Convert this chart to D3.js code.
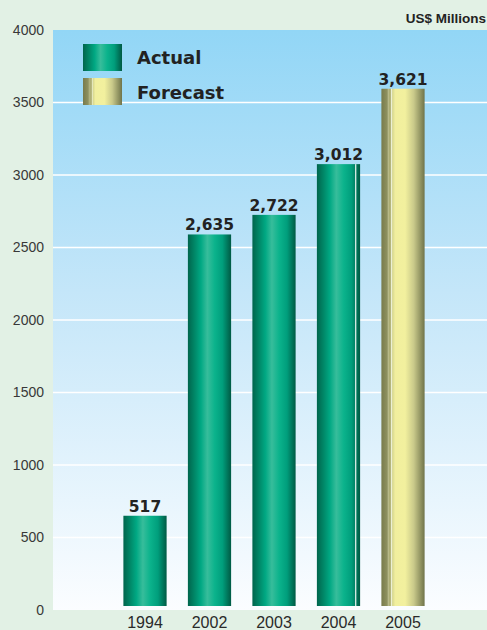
<!DOCTYPE html>
<html>
<head>
<meta charset="utf-8">
<script src="https://cdn.jsdelivr.net/npm/d3@7"></script>
<style>
  body { margin: 0; background: #e2f1e5; }
  svg { display: block; }
</style>
</head>
<body>
<div id="chart"></div>
<script>
// chart data
var years = ["1994", "2002", "2003", "2004", "2005"];
var barValues = [650, 2590, 2725, 3075, 3595];
var barLabels = ["517", "2,635", "2,722", "3,012", "3,621"];
var barKind = ["actual", "actual", "actual", "actual", "forecast"];
var yTicks = [0, 500, 1000, 1500, 2000, 2500, 3000, 3500, 4000];
var legendNames = ["Actual", "Forecast"];

var width = 487,
    height = 630;

var svg = d3.select("#chart")
    .append("svg")
    .attr("width", width)
    .attr("height", height);

var defs = svg.append("defs");

// plot background, blue fading to white
var bg = defs.append("linearGradient")
    .attr("id", "bg")
    .attr("x1", "0%").attr("y1", "0%")
    .attr("x2", "0%").attr("y2", "100%");
bg.append("stop").attr("offset", "0%").attr("stop-color", "#92d6f6");
bg.append("stop").attr("offset", "45%").attr("stop-color", "#c4e6f9");
bg.append("stop").attr("offset", "100%").attr("stop-color", "#fbfdff");

// cylinder look for the bars
function cylinder(id, stops) {
    var g = defs.append("linearGradient")
        .attr("id", id)
        .attr("x1", "0%").attr("y1", "0%")
        .attr("x2", "100%").attr("y2", "0%");
    stops.forEach(function(s) {
        g.append("stop").attr("offset", s[0]).attr("stop-color", s[1]);
    });
}

cylinder("actual", [
    ["0%", "#00654c"], ["18%", "#008d6c"], ["30%", "#00a883"],
    ["45%", "#37bd9b"], ["62%", "#0bb38c"], ["80%", "#009e7c"],
    ["100%", "#005a44"]
]);
cylinder("forecast", [
    ["0%", "#787b4c"], ["14%", "#8f9260"], ["15%", "#e8ebc8"], ["17%", "#a5a670"],
    ["22%", "#b8b980"], ["23%", "#eef4e0"], ["26%", "#d8d890"], ["32%", "#f1ef9e"],
    ["55%", "#f2f09e"], ["75%", "#c9c98a"], ["100%", "#70744a"]
]);

var x = d3.scaleBand()
    .domain(years)
    .range([112.75, 435.25])
    .paddingInner(0.33)
    .paddingOuter(0.165);

var y = d3.scaleLinear()
    .domain([0, 4000])
    .range([610, 30]);

// plot area
svg.append("rect")
    .attr("x", 53)
    .attr("y", y(4000))
    .attr("width", width - 53)
    .attr("height", y(0) - y(4000))
    .attr("fill", "url(#bg)");

// gridlines
svg.append("g")
    .selectAll("line")
    .data(yTicks.filter(function(d) { return d > 0 && d < 4000; }))
    .enter().append("line")
    .attr("x1", 53)
    .attr("x2", width)
    .attr("y1", function(d) { return y(d); })
    .attr("y2", function(d) { return y(d); })
    .attr("stroke", "#ffffff")
    .attr("stroke-width", 1.5);

// y axis labels
var yAxis = svg.append("g")
    .attr("transform", "translate(44,0)")
    .call(d3.axisLeft(y).tickValues(yTicks).tickFormat(d3.format("d")).tickSize(0).tickPadding(0));
yAxis.select(".domain").remove();
yAxis.selectAll("text")
    .attr("font-family", "Liberation Sans, Arial, sans-serif")
    .attr("font-size", 14)
    .attr("fill", "#383838");

// x axis labels
var xAxis = svg.append("g")
    .attr("transform", "translate(0," + y(0) + ")")
    .call(d3.axisBottom(x).tickSize(0).tickPadding(7));
xAxis.select(".domain").remove();
xAxis.selectAll("text")
    .attr("font-family", "Liberation Sans, Arial, sans-serif")
    .attr("font-size", 16)
    .attr("fill", "#2a2a2a");

// bars
svg.append("g")
    .selectAll("rect")
    .data(years)
    .enter().append("rect")
    .attr("x", function(d) { return x(d); })
    .attr("y", function(d, i) { return y(barValues[i]); })
    .attr("width", x.bandwidth())
    .attr("height", function(d, i) { return y(0) - 4 - y(barValues[i]); })
    .attr("fill", function(d, i) { return "url(#" + barKind[i] + ")"; });

// thin seam on the 2004 bar
svg.append("rect")
    .attr("x", x("2004") + x.bandwidth() - 5)
    .attr("y", y(barValues[3]))
    .attr("width", 1.2)
    .attr("height", y(0) - 4 - y(barValues[3]))
    .attr("fill", "#eaf7f2");

// value labels
svg.append("g")
    .selectAll("text")
    .data(years)
    .enter().append("text")
    .attr("x", function(d) { return x(d) + x.bandwidth() / 2; })
    .attr("y", function(d, i) { return y(barValues[i]) - 4; })
    .attr("text-anchor", "middle")
    .attr("font-family", "DejaVu Sans, Verdana, sans-serif")
    .attr("font-weight", "bold")
    .attr("font-size", 15.5)
    .attr("fill", "#222222")
    .text(function(d, i) { return barLabels[i]; });

// legend
var legend = svg.append("g");
legend.selectAll("rect")
    .data(legendNames)
    .enter().append("rect")
    .attr("x", 83)
    .attr("y", function(d, i) { return 44 + i * 34; })
    .attr("width", 39)
    .attr("height", 27)
    .attr("fill", function(d, i) { return i == 0 ? "url(#actual)" : "url(#forecast)"; });
legend.selectAll("text")
    .data(legendNames)
    .enter().append("text")
    .attr("x", 137)
    .attr("y", function(d, i) { return 64 + i * 35; })
    .attr("font-family", "DejaVu Sans, Verdana, sans-serif")
    .attr("font-weight", "bold")
    .attr("font-size", 18)
    .attr("fill", "#222222")
    .text(function(d) { return d; });

// units
svg.append("text")
    .attr("x", 486)
    .attr("y", 23)
    .attr("text-anchor", "end")
    .attr("font-family", "Liberation Sans, Arial, sans-serif")
    .attr("font-weight", "bold")
    .attr("font-size", 13.5)
    .attr("fill", "#222222")
    .text("US$ Millions");
</script>
</body>
</html>
